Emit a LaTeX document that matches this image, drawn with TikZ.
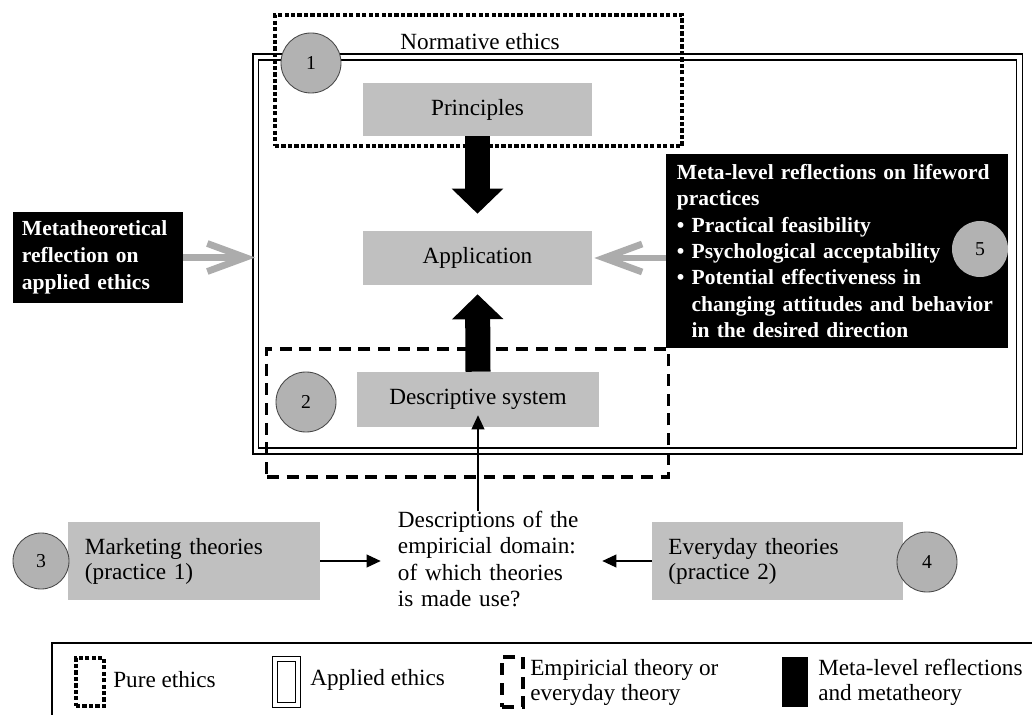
\documentclass[tikz,border=0pt]{standalone}
\usepackage{fontspec}
\setmainfont{Liberation Serif}
\usetikzlibrary{arrows.meta}
\definecolor{boxgrey}{RGB}{192,192,192}
\definecolor{circgrey}{RGB}{178,178,178}
\definecolor{circedge}{RGB}{70,70,70}
\definecolor{arrowgrey}{RGB}{172,172,172}

\begin{document}
\begin{tikzpicture}[x=0.025cm,y=-0.025cm,
  greybox/.style={fill=boxgrey,inner sep=0pt,font=\fontsize{16.5}{17.8}\selectfont},
  blackbox/.style={fill=black,text=white,inner sep=0pt,align=left,font=\bfseries\fontsize{15.3}{18.7}\selectfont},
  num/.style={circle,draw=circedge,fill=circgrey,semithick,minimum size=1.5cm,inner sep=0pt,font=\fontsize{14}{16}\selectfont},
  pureframe/.style={draw,line width=2.4pt,dash pattern=on 3pt off 1.6pt},
  appliedframe/.style={draw,double,line width=1pt,double distance=0.11cm},
  empframe/.style={draw,line width=2.2pt,dash pattern=on 8.5pt off 5.5pt},
  blockarrow/.style={line width=0.625cm,-{Triangle[length=0.625cm,width=1.25cm]}},
  greyarrow/.style={draw=arrowgrey,line width=0.17cm,-{Straight Barb[length=0.95cm,width=0.7cm]}},
  thinarrow/.style={line width=0.9pt,-{Triangle[length=0.35cm,width=0.32cm]}},
  legendtext/.style={inner sep=0pt,anchor=west,align=left,font=\fontsize{16.5}{17.8}\selectfont}]

\useasboundingbox (0,0) rectangle (1032,715);

%frames
\node[appliedframe,minimum width=19.09cm,minimum height=9.85cm] (applied) at (637.75,254) {};
\node[pureframe,minimum width=10.175cm,minimum height=3.275cm] (pure) at (478.5,80.5) {};
\node[empframe,minimum width=10.025cm,minimum height=3.2cm] (empirical) at (467.5,413) {};
\node[font=\fontsize{16.5}{18}\selectfont] (normative) at (480,42) {Normative ethics};

%grey boxes
\node[greybox,minimum width=5.725cm,minimum height=1.325cm] (principles) at (477.5,109.5) {Principles};
\node[greybox,minimum width=5.725cm,minimum height=1.35cm] (application) at (477.5,258) {Application};
\node[greybox,minimum width=6.05cm,minimum height=1.375cm] (descr) at (478,399.5) {Descriptive system};
\node[greybox,minimum width=6.3cm,minimum height=1.95cm,text width=5.45cm,align=left] (marketing) at (194,561) {Marketing theories\\(practice 1)};
\node[greybox,minimum width=6.275cm,minimum height=1.95cm,text width=5.45cm,align=left] (everyday) at (777.5,561) {Everyday theories\\(practice 2)};
\node[align=left,text width=4.6cm,inner sep=0pt,font=\fontsize{16.5}{18.5}\selectfont] (desc) at (490,559) {Descriptions of the\\empiricial domain:\\of which theories\\is made use?};

%black boxes
\node[blackbox,minimum width=4.25cm,minimum height=2.275cm,text width=3.8cm,font=\bfseries\fontsize{15.3}{19}\selectfont] (metatheory) at (98,257.5) {Metatheoretical\\reflection on\\applied ethics};
\node[blackbox,minimum width=8.55cm,minimum height=4.85cm,text width=8.0cm] (lifeworld) at (837,251) {Meta-level reflections on lifeword\\practices\\\textbullet\ Practical feasibility\\\textbullet\ Psychological acceptability\\\textbullet\ Potential effectiveness in\\\phantom{\textbullet\ }changing attitudes and behavior\\\phantom{\textbullet\ }in the desired direction};

%numbers
\node[num] (c1) at (311,63) {1};
\node[num] (c2) at (306,402) {2};
\node[num,minimum size=1.4cm] (c3) at (41,561) {3};
\node[num] (c4) at (927,562) {4};
\node[num,draw=none,minimum size=1.4cm] (c5) at (980,249) {5};

%arrows
\draw[blockarrow,shorten >=0.425cm] (principles.south) -- (application.north);
\draw[blockarrow,shorten >=0.225cm] (descr.north) -- (application.south);
\draw[greyarrow] (metatheory.east) -- (metatheory.east -| applied.west);
\draw[greyarrow,shorten >=0.05cm] (lifeworld.west |- application.east) -- (application.east);
\draw[thinarrow,shorten >=-0.3cm] (desc.north -| descr.south) -- (descr.south);
\draw[thinarrow,shorten >=0.425cm] (marketing.east) -- (marketing.east -| desc.west);
\draw[thinarrow,shorten >=0.5cm] (everyday.west) -- (everyday.west -| desc.east);

%legend
\draw[line width=0.8pt] (52,643) rectangle (1050,740);
\node[pureframe,minimum width=0.7cm,minimum height=1.2cm] (keypure) at (90,682) {};
\node[legendtext] (keypuretext) at (113,680) {Pure ethics};
\node[appliedframe,line width=0.7pt,double distance=0.1cm,minimum width=0.575cm,minimum height=1.15cm] (keyapplied) at (286.5,682) {};
\node[legendtext] (keyappliedtext) at (310,680) {Applied ethics};
\node[empframe,minimum width=0.525cm,minimum height=1.25cm] (keyemp) at (512.5,682) {};
\node[legendtext] (keyemptext) at (530,682) {Empiricial theory or\\everyday theory};
\node[fill=black,minimum width=0.65cm,minimum height=1.25cm,inner sep=0pt] (keymeta) at (795,682) {};
\node[legendtext] (keymetatext) at (818,682) {Meta-level reflections\\and metatheory};
\end{tikzpicture}
\end{document}
